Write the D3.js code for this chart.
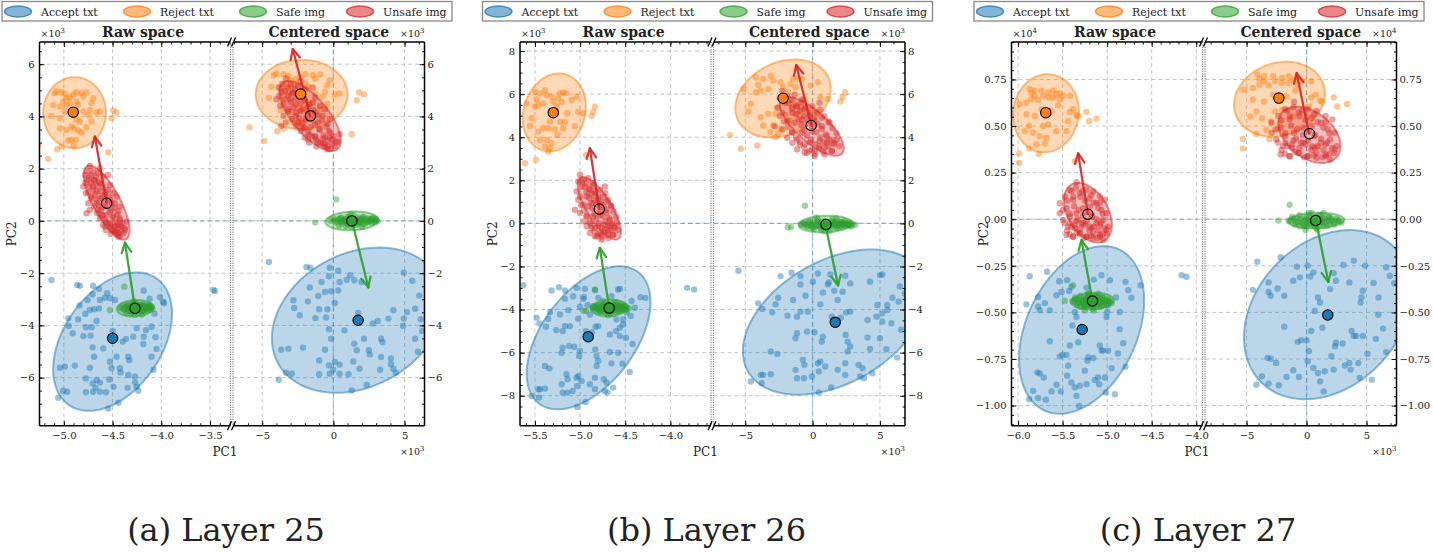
<!DOCTYPE html>
<html>
<head>
<meta charset="utf-8">
<script src="https://cdn.jsdelivr.net/npm/d3@7"></script>
<style>
body { margin: 0; background: #fff; }
svg text { font-family: "DejaVu Serif", serif; fill: #222; }
</style>
</head>
<body>
<svg id="fig" width="1433" height="557"></svg>
<script>
'use strict';

var classNames = ['Accept txt', 'Reject txt', 'Safe img', 'Unsafe img'];
var classColors = ['#1f77b4', '#ff7f0e', '#2ca02c', '#d62728'];

// ---------------- Layer 25 (raw space: x in 1e4, y in 1e3) ----------------
var l25Accept = [[-5.127,-2.26],[-4.863,-2.45],[-4.836,-2.48],[-4.70,-2.48],[-4.64,-2.60],[-4.705,-2.81],[-4.555,-2.77],[-4.527,-2.96],[-4.63,-3.03],[-4.58,-2.94],[-4.476,-3.03],[-4.18,-2.67],[-4.12,-2.98],[-4.014,-2.92],[-3.98,-3.09],[-3.973,-3.15],[-4.757,-3.03],[-4.84,-3.24],[-4.733,-3.41],[-4.69,-3.38],[-4.64,-3.35],[-4.78,-3.56],[-4.955,-3.73],[-4.853,-3.77],[-4.664,-3.83],[-4.774,-4.07],[-4.716,-4.07],[-4.91,-4.30],[-4.80,-4.41],[-4.726,-4.39],[-4.949,-4.02],[-4.50,-4.21],[-4.363,-4.52],[-4.288,-4.43],[-4.18,-4.43],[-4.157,-4.18],[-4.10,-4.05],[-4.253,-4.11],[-4.397,-4.62],[-4.185,-4.71],[-4.705,-4.84],[-4.596,-4.88],[-4.69,-5.20],[-4.459,-5.20],[-4.339,-5.20],[-4.329,-5.33],[-4.10,-5.20],[-5.04,-5.62],[-4.99,-5.58],[-4.887,-5.54],[-4.733,-5.62],[-4.527,-5.39],[-4.51,-5.64],[-4.425,-5.64],[-4.418,-5.80],[-4.774,-6.03],[-4.664,-6.09],[-4.534,-6.07],[-4.705,-6.22],[-4.63,-6.19],[-4.675,-6.39],[-4.49,-6.35],[-4.63,-6.54],[-4.70,-6.54],[-4.568,-6.56],[-4.774,-6.56],[-4.346,-6.39],[-4.253,-6.35],[-4.236,-6.50],[-4.27,-6.18],[-5.007,-6.50],[-4.966,-6.54],[-5.058,-6.77],[-4.44,-6.96],[-4.545,-7.18],[-4.27,-5.96],[-4.339,-5.90],[-3.466,-2.64],[-3.449,-2.68],[-4.07,-3.55],[-4.06,-4.45],[-4.08,-5.70],[-4.05,-4.90]];
var l25Reject = [[-5.161,2.375],[-5.068,2.746],[-5.024,2.848],[-4.955,3.078],[-4.921,3.103],[-4.897,2.874],[-4.877,3.103],[-4.818,3.384],[-4.767,3.589],[-4.716,3.806],[-4.664,4.151],[-4.630,4.189],[-4.510,3.934],[-4.493,4.227],[-4.459,4.151],[-4.545,2.631],[-5.041,3.550],[-4.973,3.487],[-4.921,3.614],[-4.897,3.550],[-4.870,3.870],[-4.836,3.806],[-4.750,4.061],[-4.716,4.508],[-4.699,4.700],[-4.818,4.891],[-4.767,4.917],[-4.870,4.930],[-4.904,4.828],[-4.938,4.738],[-4.973,4.700],[-5.007,4.572],[-5.041,4.381],[-5.092,4.891],[-5.075,4.955],[-5.024,4.930],[-4.990,4.866],[-5.110,4.444],[-4.973,4.444],[-4.938,4.508],[-4.870,4.572],[-4.853,4.444],[-4.801,4.764],[-5.127,4.023],[-4.801,4.189],[-4.733,4.253],[-4.887,4.189],[-4.990,4.189],[-5.041,3.934],[-4.853,3.461],[-5.263,2.90]];
var l25Safe = [[-4.42,-3.33],[-4.40,-3.25],[-4.38,-3.40],[-4.37,-3.30],[-4.35,-3.22],[-4.34,-3.45],[-4.33,-3.36],[-4.32,-3.28],[-4.31,-3.55],[-4.30,-3.18],[-4.30,-3.48],[-4.29,-3.35],[-4.28,-3.25],[-4.27,-3.42],[-4.26,-3.14],[-4.25,-3.32],[-4.24,-3.50],[-4.23,-3.22],[-4.22,-3.38],[-4.21,-3.28],[-4.20,-3.45],[-4.19,-3.18],[-4.18,-3.33],[-4.17,-3.40],[-4.16,-3.25],[-4.15,-3.35],[-4.14,-3.30],[-4.13,-3.42],[-4.12,-3.22],[-4.11,-3.32],[-4.10,-3.28],[-4.09,-3.36],[-4.27,-3.58],[-4.28,-3.08],[-4.36,-3.52],[-4.20,-3.58],[-4.527,-3.41],[-4.38,-2.52],
    [-4.39,-3.36],[-4.36,-3.28],[-4.33,-3.32],[-4.31,-3.40],[-4.29,-3.30],[-4.27,-3.34],[-4.26,-3.26],[-4.24,-3.38],[-4.22,-3.30],[-4.20,-3.36],[-4.18,-3.26],[-4.16,-3.38],[-4.14,-3.34],[-4.12,-3.30],[-4.34,-3.24],[-4.30,-3.42],[-4.26,-3.46],[-4.22,-3.44],[-4.18,-3.46],[-4.15,-3.28],[-4.28,-3.38],[-4.24,-3.28],[-4.20,-3.24],[-4.32,-3.34],[-4.35,-3.38],[-4.11,-3.38],[-4.13,-3.26],[-4.25,-3.40],[-4.29,-3.20],[-4.23,-3.34]];
var l25Unsafe = [[-4.733,2.107],[-4.784,1.762],[-4.760,1.571],[-4.801,1.315],[-4.774,1.060],[-4.750,0.677],[-4.699,1.890],[-4.647,1.826],[-4.596,1.699],[-4.630,1.443],[-4.699,1.315],[-4.664,1.124],[-4.716,0.932],[-4.630,0.868],[-4.579,0.996],[-4.545,1.188],[-4.527,0.805],[-4.476,0.677],[-4.510,0.421],[-4.596,0.549],[-4.647,0.421],[-4.664,0.677],[-4.562,0.230],[-4.493,0.166],[-4.442,0.358],[-4.425,0.038],[-4.459,-0.153],[-4.408,-0.217],[-4.373,-0.345],[-4.527,-0.153],[-4.476,-0.409],[-4.425,-0.600],[-4.568,-0.026],[-4.613,0.230],[-4.493,1.060],[-4.527,1.379],[-4.682,1.571],[-4.740,1.315],[-4.630,2.018],[-4.545,1.762],[-4.459,0.932],[-4.425,0.549],[-4.733,0.421],[-4.767,0.294],[-4.356,-0.026],[-4.579,-0.217],[-4.510,-0.345],[-4.442,-0.473],[-4.527,-0.089],[-4.476,-0.217],[-4.425,-0.153],[-4.373,-0.281],[-4.459,-0.409],[-4.442,-0.600],[-4.390,-0.473],
    [-4.76,1.90],[-4.74,1.65],[-4.72,1.45],[-4.70,1.20],[-4.68,1.00],[-4.66,0.80],[-4.64,0.60],[-4.62,0.40],[-4.60,0.20],[-4.58,0.05],[-4.55,-0.10],[-4.52,-0.25],[-4.49,-0.35],[-4.46,-0.50],[-4.72,1.75],[-4.69,1.55],[-4.66,1.35],[-4.63,1.15],[-4.61,0.95],[-4.58,0.75],[-4.56,0.55],[-4.53,0.35],[-4.50,0.15],[-4.47,-0.05],[-4.44,-0.25],[-4.41,-0.40],[-4.67,1.70],[-4.64,1.50],[-4.60,1.30],[-4.57,1.10],[-4.54,0.90],[-4.51,0.70],[-4.48,0.50],[-4.45,0.25],[-4.43,0.10],[-4.40,-0.10],[-4.78,1.45],[-4.75,1.10],[-4.72,0.85],[-4.69,0.55],[-4.66,0.30],[-4.63,0.10],[-4.60,-0.15],[-4.57,-0.35],[-4.52,-0.50]];
var l25Centroids = [[-4.50,-4.494],[-4.904,4.165],[-4.27,-3.345],[-4.561,0.678]];
var l25Shift = [[-46.74,-0.69],[-44.0,-3.345]];   // text, image: centered = [10*x - sx, y - sy]
var l25RawEllipses = [[-4.50,-4.62,0.61,2.65,0.4],[-4.89,4.144,0.322,1.36,0],[-4.27,-3.345,0.187,0.32,0.1],[-4.561,0.70,0.235,1.42,-0.75]];
var l25CtrEllipses = [[1.70,-3.80,6.02,2.78,0.25],[-2.23,4.84,3.23,1.33,0],[1.31,0,1.87,0.36,0.1],[-1.63,4.02,2.16,1.34,-0.7]];
var l25RawArrows = [[-4.27,-3.345,-4.373,-0.83],[-4.561,0.678,-4.682,3.23]];
var l25CtrArrows = [[1.31,0,2.45,-2.54],[-1.63,4.02,-2.85,6.58]];
var l25RawXTicks = [-5, -4.5, -4, -3.5];
var l25CtrXTicks = [-5, 0, 5];
var l25YTicks = [-6, -4, -2, 0, 2, 4, 6];

// ---------------- Layer 26 ----------------
var l26Accept = [[-5.629,-2.869],[-5.537,-8.008],[-5.463,-7.699],[-5.482,-4.381],[-5.353,-4.427],[-5.334,-4.119],[-5.316,-3.116],[-5.235,-2.961],[-5.168,-3.116],[-5.168,-3.501],[-5.076,-3.378],[-5.039,-2.992],[-4.965,-3.501],[-4.947,-3.039],[-4.958,-3.409],[-5.002,-3.872],[-4.917,-3.795],[-4.855,-3.841],[-4.836,-3.100],[-4.799,-3.455],[-4.652,-3.378],[-4.578,-3.069],[-4.560,-3.039],[-4.486,-4.119],[-4.394,-3.918],[-4.331,-3.424],[-4.276,-3.455],[-5.452,-4.643],[-5.378,-4.798],[-5.223,-4.227],[-5.131,-4.026],[-5.021,-4.427],[-4.892,-4.227],[-5.168,-4.767],[-5.264,-4.952],[-5.194,-4.998],[-5.113,-4.767],[-4.936,-4.998],[-4.869,-5.045],[-4.829,-4.798],[-4.799,-4.767],[-4.670,-5.153],[-4.604,-4.998],[-4.560,-4.844],[-4.523,-4.690],[-4.523,-4.458],[-4.597,-4.458],[-4.493,-5.307],[-4.560,-5.230],[-5.194,-5.770],[-5.205,-6.001],[-5.120,-5.693],[-5.065,-5.724],[-5.002,-5.924],[-5.010,-6.156],[-4.833,-5.847],[-4.818,-6.156],[-4.799,-6.387],[-4.818,-6.619],[-4.670,-5.971],[-4.578,-6.001],[-4.652,-6.495],[-4.530,-6.511],[-5.389,-6.619],[-5.341,-6.727],[-5.150,-7.004],[-5.139,-7.236],[-5.039,-7.159],[-5.021,-7.082],[-4.836,-7.159],[-4.892,-7.467],[-4.836,-7.699],[-4.737,-7.236],[-4.707,-7.390],[-4.726,-7.776],[-4.696,-7.853],[-4.634,-7.622],[-4.984,-7.313],[-5.032,-7.545],[-5.083,-7.776],[-5.205,-7.467],[-5.194,-7.853],[-5.142,-7.853],[-5.389,-7.668],[-5.445,-7.699],[-4.940,-8.285],[-5.032,-8.517],[-5.456,-8.085],[-3.815,-2.992],[-3.737,-3.069],[-4.44,-4.30],[-4.42,-5.60],[-4.45,-6.90],[-4.43,-3.60]];
var l26Reject = [[-5.611,2.795],[-5.489,2.949],[-5.353,3.335],[-5.334,3.489],[-5.389,3.567],[-5.316,3.721],[-5.371,3.875],[-5.445,3.875],[-5.463,4.261],[-5.408,4.415],[-5.555,4.523],[-5.537,4.878],[-5.592,5.573],[-5.5,5.418],[-5.463,5.495],[-5.408,5.573],[-5.482,5.758],[-5.5,6.113],[-5.445,6.036],[-5.389,6.190],[-5.371,5.958],[-5.316,5.881],[-5.297,5.650],[-5.242,5.804],[-5.260,5.418],[-5.205,5.650],[-5.187,6.066],[-5.223,6.036],[-5.157,6.036],[-5.094,5.727],[-5.039,5.881],[-5.223,4.724],[-5.168,4.724],[-5.187,4.415],[-5.279,4.369],[-5.353,4.415],[-5.334,4.724],[-5.058,4.523],[-5.021,5.187],[-4.965,5.110],[-4.873,4.986],[-4.855,5.187],[-4.836,5.418],[-4.936,3.181],[-5.142,5.110],[-5.249,4.106],[-5.691,3.44]];
var l26Safe = [[-4.86,-3.95],[-4.84,-3.85],[-4.82,-4.05],[-4.80,-3.78],[-4.79,-3.98],[-4.77,-4.12],[-4.76,-3.88],[-4.74,-3.70],[-4.73,-4.00],[-4.72,-3.82],[-4.71,-4.18],[-4.70,-3.92],[-4.69,-3.75],[-4.68,-4.05],[-4.67,-3.86],[-4.66,-3.98],[-4.65,-4.22],[-4.64,-3.80],[-4.63,-3.68],[-4.62,-4.02],[-4.61,-3.90],[-4.60,-4.10],[-4.59,-3.78],[-4.58,-3.95],[-4.57,-3.85],[-4.56,-4.05],[-4.55,-3.92],[-4.54,-3.75],[-4.53,-4.00],[-4.52,-3.88],[-4.51,-3.96],[-4.50,-3.83],[-4.49,-4.02],[-4.48,-3.90],[-4.46,-3.94],[-4.75,-3.60],[-4.69,-4.25],[-4.83,-3.92],[-4.60,-3.65],[-4.961,-4.06],[-4.936,-4.06],[-4.834,-3.06],
    [-4.85,-3.90],[-4.81,-3.98],[-4.78,-3.88],[-4.75,-3.96],[-4.72,-3.90],[-4.70,-4.02],[-4.68,-3.92],[-4.66,-3.84],[-4.64,-3.96],[-4.62,-3.88],[-4.60,-3.98],[-4.58,-3.90],[-4.56,-3.82],[-4.54,-3.96],[-4.52,-3.92],[-4.50,-3.98],[-4.78,-4.08],[-4.74,-3.80],[-4.70,-3.84],[-4.66,-4.08],[-4.62,-3.80],[-4.58,-4.06],[-4.54,-3.86],[-4.80,-3.84],[-4.68,-3.98],[-4.76,-4.02],[-4.64,-3.90],[-4.60,-3.86],[-4.72,-4.06],[-4.56,-3.94]];
var l26Unsafe = [[-5.002,2.255],[-5.021,1.946],[-4.984,1.715],[-5.039,1.483],[-5.002,1.252],[-5.058,0.634],[-4.965,2.023],[-4.910,2.100],[-4.855,1.869],[-4.892,1.560],[-4.928,1.252],[-4.836,1.406],[-4.781,1.560],[-4.726,1.715],[-4.744,1.252],[-4.799,1.097],[-4.855,0.943],[-4.910,0.789],[-4.965,0.866],[-5.002,0.480],[-4.928,0.326],[-4.855,0.326],[-4.781,0.403],[-4.707,0.634],[-4.652,0.789],[-4.670,0.171],[-4.726,-0.060],[-4.799,-0.137],[-4.873,-0.215],[-4.928,-0.137],[-4.836,-0.600],[-4.763,-0.523],[-4.689,-0.369],[-4.615,-0.137],[-4.634,-0.523],[-4.578,-0.292],[-4.892,-0.446],[-4.965,0.094],[-4.707,1.020],[-4.763,0.866],[-4.892,0.017],[-4.836,-0.214],[-4.781,-0.446],[-4.726,-0.292],[-4.670,-0.137],[-4.634,-0.523],[-4.689,-0.677],[-4.763,-0.755],[-4.818,-0.600],[-4.597,0.017],
    [-4.98,1.95],[-4.95,1.70],[-4.93,1.45],[-4.90,1.20],[-4.88,0.95],[-4.86,0.70],[-4.84,0.45],[-4.82,0.20],[-4.79,0.00],[-4.76,-0.20],[-4.73,-0.40],[-4.70,-0.55],[-4.93,1.85],[-4.90,1.60],[-4.87,1.35],[-4.84,1.10],[-4.81,0.85],[-4.78,0.60],[-4.75,0.35],[-4.72,0.10],[-4.69,-0.10],[-4.66,-0.30],[-4.86,1.75],[-4.83,1.50],[-4.80,1.25],[-4.77,1.00],[-4.74,0.75],[-4.71,0.50],[-4.68,0.25],[-4.65,0.00],[-4.62,-0.20],[-5.02,1.10],[-4.99,0.85],[-4.96,0.60],[-4.93,0.35],[-4.90,0.10],[-4.87,-0.10],[-4.84,-0.35],[-4.80,-0.50],[-4.76,-0.65],[-4.72,1.40],[-4.69,1.10],[-4.66,0.85],[-4.63,0.55],[-4.60,0.30]];
var l26Centroids = [[-4.910,-5.26],[-5.297,5.14],[-4.678,-3.93],[-4.788,0.665]];
var l26Shift = [[-50.78,-0.67],[-47.77,-3.88]];
var l26RawEllipses = [[-4.906,-5.31,0.686,3.32,0.5],[-5.286,5.15,0.35,1.81,0.15],[-4.678,-3.93,0.2,0.39,0.1],[-4.788,0.70,0.24,1.45,-0.75]];
var l26CtrEllipses = [[1.64,-4.58,6.82,3.37,0.4],[-2.20,5.80,3.54,1.81,0.25],[0.94,-0.03,1.99,0.39,0.1],[-0.07,4.51,2.38,1.37,-0.75]];
var l26RawArrows = [[-4.678,-3.93,-4.781,-1.14],[-4.788,0.665,-4.892,3.486]];
var l26CtrArrows = [[0.94,-0.03,1.89,-2.88],[-0.07,4.52,-1.22,7.35]];
var l26RawXTicks = [-5.5, -5, -4.5, -4];
var l26CtrXTicks = [-5, 0, 5];
var l26YTicks = [-8, -6, -4, -2, 0, 2, 4, 6, 8];

// ---------------- Layer 27 (y in 1e4) ----------------
var l27Accept = [[-5.869,-0.306],[-5.906,-0.457],[-5.775,-0.417],[-5.757,-0.489],[-5.700,-0.450],[-5.674,-0.282],[-5.644,-0.489],[-5.569,-0.408],[-5.539,-0.333],[-5.513,-0.390],[-5.449,-0.327],[-5.427,-0.385],[-5.401,-0.363],[-5.363,-0.498],[-5.345,-0.525],[-5.390,-0.570],[-5.262,-0.453],[-5.232,-0.367],[-5.213,-0.408],[-5.150,-0.324],[-5.101,-0.417],[-5.064,-0.300],[-5.007,-0.525],[-5.000,-0.498],[-4.989,-0.462],[-4.970,-0.327],[-4.858,-0.498],[-4.794,-0.336],[-4.764,-0.381],[-4.727,-0.421],[-4.625,-0.354],[-5.775,-0.468],[-5.783,-0.822],[-5.757,-0.827],[-5.644,-0.655],[-5.712,-0.849],[-5.831,-0.921],[-5.876,-0.966],[-5.775,-0.960],[-5.689,-0.969],[-5.625,-0.924],[-5.569,-0.888],[-5.521,-0.924],[-5.502,-0.727],[-5.532,-0.736],[-5.419,-0.678],[-5.438,-0.786],[-5.449,-0.840],[-5.401,-0.876],[-5.363,-0.903],[-5.307,-0.894],[-5.345,-0.948],[-5.315,-1.002],[-5.251,-0.813],[-5.232,-0.885],[-5.221,-0.759],[-5.157,-0.745],[-5.139,-0.863],[-5.101,-0.849],[-5.090,-0.885],[-5.082,-0.678],[-5.064,-0.705],[-5.026,-0.849],[-5.015,-0.930],[-5.045,-0.705],[-4.989,-0.705],[-4.820,-0.665],[-4.794,-0.791],[-4.914,-0.939],[-5.326,-0.660],[-5.213,-0.741],[-5.457,-0.728],[-4.165,-0.300],[-4.109,-0.309],[-4.86,-0.59],[-4.90,-0.42],[-4.95,-0.80],[-4.88,-0.72]];
var l27Reject = [[-5.989,0.353],[-5.989,0.302],[-5.876,0.379],[-5.768,0.351],[-5.794,0.401],[-5.700,0.406],[-5.682,0.437],[-5.757,0.446],[-5.831,0.464],[-5.925,0.473],[-5.876,0.500],[-5.719,0.500],[-5.663,0.509],[-5.569,0.473],[-5.457,0.473],[-5.438,0.527],[-5.419,0.576],[-5.345,0.558],[-5.232,0.576],[-5.202,0.527],[-5.120,0.540],[-5.326,0.554],[-5.981,0.617],[-5.906,0.563],[-5.813,0.554],[-5.738,0.590],[-5.625,0.581],[-5.551,0.612],[-5.532,0.644],[-5.494,0.662],[-5.569,0.671],[-5.607,0.653],[-5.663,0.653],[-5.719,0.662],[-5.775,0.640],[-5.813,0.662],[-5.850,0.644],[-5.906,0.626],[-5.869,0.698],[-5.813,0.689],[-5.738,0.689],[-5.663,0.680],[-5.607,0.689],[-5.532,0.676],[-5.850,0.676],[-5.419,0.662],[-5.382,0.590],[-5.363,0.311]];
var l27Safe = [[-5.39,-0.44],[-5.36,-0.42],[-5.34,-0.46],[-5.32,-0.43],[-5.30,-0.41],[-5.28,-0.45],[-5.26,-0.47],[-5.24,-0.43],[-5.22,-0.40],[-5.21,-0.44],[-5.19,-0.46],[-5.17,-0.42],[-5.16,-0.48],[-5.14,-0.44],[-5.12,-0.41],[-5.11,-0.45],[-5.09,-0.43],[-5.07,-0.47],[-5.05,-0.42],[-5.03,-0.44],[-5.01,-0.46],[-4.99,-0.43],[-4.97,-0.44],[-4.95,-0.45],[-5.25,-0.49],[-5.20,-0.40],[-5.15,-0.49],[-5.10,-0.40],[-5.30,-0.47],[-5.05,-0.46],[-5.18,-0.44],[-5.13,-0.43],[-5.23,-0.45],[-5.476,-0.439],[-5.382,-0.354],
    [-5.37,-0.44],[-5.33,-0.45],[-5.29,-0.43],[-5.27,-0.44],[-5.25,-0.42],[-5.23,-0.44],[-5.21,-0.46],[-5.19,-0.43],[-5.17,-0.45],[-5.15,-0.43],[-5.13,-0.46],[-5.11,-0.43],[-5.09,-0.45],[-5.07,-0.44],[-5.05,-0.44],[-5.03,-0.43],[-5.01,-0.45],[-4.98,-0.44],[-5.31,-0.45],[-5.26,-0.46],[-5.22,-0.42],[-5.18,-0.47],[-5.14,-0.41],[-5.10,-0.47],[-5.06,-0.42],[-5.20,-0.44],[-5.16,-0.44],[-5.12,-0.45],[-5.24,-0.47],[-5.35,-0.43]];
var l27Unsafe = [[-5.345,0.198],[-5.419,0.158],[-5.476,0.122],[-5.532,0.086],[-5.457,0.059],[-5.382,0.104],[-5.307,0.140],[-5.232,0.158],[-5.157,0.149],[-5.082,0.122],[-5.026,0.104],[-5.120,0.086],[-5.195,0.068],[-5.270,0.059],[-5.345,0.032],[-5.419,0.014],[-5.494,-0.004],[-5.532,0.032],[-5.438,-0.040],[-5.363,-0.031],[-5.288,-0.022],[-5.195,-0.040],[-5.120,-0.022],[-5.045,-0.004],[-5.007,0.032],[-5.064,0.050],[-5.007,-0.076],[-5.082,-0.094],[-5.157,-0.076],[-5.232,-0.094],[-5.307,-0.076],[-5.382,-0.094],[-5.457,-0.085],[-5.176,0.014],[-4.989,-0.040],[-5.419,-0.022],[-5.363,-0.049],[-5.307,-0.076],[-5.232,-0.094],[-5.157,-0.103],[-5.082,-0.085],[-5.007,-0.058],[-5.082,-0.031],[-5.176,-0.049],[-5.270,-0.022],[-5.382,-0.094],[-5.045,-0.112],
    [-5.50,0.05],[-5.45,0.10],[-5.40,0.15],[-5.35,0.17],[-5.30,0.12],[-5.25,0.10],[-5.20,0.11],[-5.15,0.09],[-5.10,0.06],[-5.05,0.03],[-5.48,-0.02],[-5.42,0.03],[-5.37,0.07],[-5.32,0.05],[-5.27,0.02],[-5.22,0.04],[-5.17,0.02],[-5.12,0.00],[-5.07,-0.02],[-5.03,-0.05],[-5.45,-0.06],[-5.40,-0.04],[-5.35,-0.01],[-5.30,-0.05],[-5.25,-0.03],[-5.20,-0.06],[-5.15,-0.04],[-5.10,-0.06],[-5.05,-0.08],[-5.42,-0.08],[-5.34,-0.07],[-5.26,-0.10],[-5.18,-0.09],[-5.11,-0.10],[-5.38,0.12],[-5.28,0.15],[-5.18,0.13],[-5.08,0.09],[-5.23,-0.01],[-5.33,0.00]];
var l27Centroids = [[-5.281,-0.592],[-5.689,0.572],[-5.165,-0.439],[-5.217,0.027]];
var l27Shift = [[-54.58,-0.078],[-52.41,-0.432]];
var l27RawEllipses = [[-5.287,-0.594,0.702,0.45,0.35],[-5.687,0.569,0.369,0.2095,0.05],[-5.165,-0.439,0.24,0.045,0.1],[-5.217,0.035,0.27,0.16,-0.4]];
var l27CtrEllipses = [[1.75,-0.512,6.97,0.454,0.27],[-2.26,0.644,3.79,0.201,0.15],[0.78,-0.007,2.36,0.042,0.1],[0.24,0.453,2.6,0.151,-0.4]];
var l27RawArrows = [[-5.165,-0.439,-5.288,-0.112],[-5.217,0.027,-5.326,0.353]];
var l27CtrArrows = [[0.78,-0.007,1.81,-0.336],[0.22,0.459,-0.83,0.784]];
var l27RawXTicks = [-6, -5.5, -5, -4.5, -4];
var l27CtrXTicks = [-5, 0, 5];
var l27YTicks = [-1, -0.75, -0.5, -0.25, 0, 0.25, 0.5, 0.75];

var panels = [
    { caption: '(a) Layer 25', points: [l25Accept, l25Reject, l25Safe, l25Unsafe], centroids: l25Centroids, shift: l25Shift,
      rawEll: l25RawEllipses, ctrEll: l25CtrEllipses, rawArr: l25RawArrows, ctrArr: l25CtrArrows,
      rawX: [-5.25, -3.29], ctrX: [-7.05, 6.4], y: [-7.84, 6.85],
      rawXTicks: l25RawXTicks, ctrXTicks: l25CtrXTicks, yTicks: l25YTicks,
      rawMinor: 0.1, yMinor: 0.5, yFmt: 'd', rawFmt: '.1f', yExp: '3' },
    { caption: '(b) Layer 26', points: [l26Accept, l26Reject, l26Safe, l26Unsafe], centroids: l26Centroids, shift: l26Shift,
      rawEll: l26RawEllipses, ctrEll: l26CtrEllipses, rawArr: l26RawArrows, ctrArr: l26CtrArrows,
      rawX: [-5.666, -3.55], ctrX: [-7.36, 6.86], y: [-9.39, 8.42],
      rawXTicks: l26RawXTicks, ctrXTicks: l26CtrXTicks, yTicks: l26YTicks,
      rawMinor: 0.1, yMinor: 0.5, yFmt: 'd', rawFmt: '.1f', yExp: '3' },
    { caption: '(c) Layer 27', points: [l27Accept, l27Reject, l27Safe, l27Unsafe], centroids: l27Centroids, shift: l27Shift,
      rawEll: l27RawEllipses, ctrEll: l27CtrEllipses, rawArr: l27RawArrows, ctrArr: l27CtrArrows,
      rawX: [-6.074, -3.93], ctrX: [-8.47, 7.5], y: [-1.108, 0.951],
      rawXTicks: l27RawXTicks, ctrXTicks: l27CtrXTicks, yTicks: l27YTicks,
      rawMinor: 0.1, yMinor: 0.05, yFmt: '.2f', rawFmt: '.1f', yExp: '4' }
];

var svg = d3.select('#fig');
var panelOffsets = [0, 480.5, 972];
var plotTop = 42, plotBottom = 425.7;
var rawRange = [39.5, 230.5], ctrRange = [233, 424.5];

var minorValues = function(domain, step){
    var out = [];
    var start = Math.ceil(domain[0] / step - 1e-6);
    for (var k = start; k * step <= domain[1] + 1e-9; k++) { out.push(+(k * step).toFixed(4)); }
    return out;
};

var toCentered = function(pt, cls, shift){
    var s = shift[cls < 2 ? 0 : 1];
    return [pt[0] * 10 - s[0], pt[1] - s[1]];
};

var ellipsePath = function(e, x, y){
    var pts = d3.range(0, 121).map(function(i){
        var t = i / 120 * 2 * Math.PI;
        var ex = e[0] + e[2] * Math.cos(t);
        var ey = e[1] + e[3] * (e[4] * Math.cos(t) + Math.sqrt(1 - e[4] * e[4]) * Math.sin(t));
        return [x(ex), y(ey)];
    });
    return d3.line()(pts) + 'Z';
};

var styleAxis = function(sel){
    sel.select('.domain').remove();
    sel.selectAll('line').attr('stroke', '#000').attr('stroke-width', 0.9);
    sel.selectAll('text').attr('font-family', '"DejaVu Serif", serif').attr('font-size', 10).attr('fill', '#222');
    sel.attr('font-family', null).attr('font-size', null);
};

var drawArrow = function(g, a, x, y, color){
    var x0 = x(a[0]), y0 = y(a[1]), x1 = x(a[2]), y1 = y(a[3]);
    var ang = Math.atan2(y1 - y0, x1 - x0);
    var len = 11, spread = 0.45;
    g.append('line').attr('x1', x0).attr('y1', y0).attr('x2', x1).attr('y2', y1)
        .attr('stroke', color).attr('stroke-width', 2.3).attr('stroke-opacity', 0.9).attr('stroke-linecap', 'round');
    g.append('path')
        .attr('d', 'M' + (x1 - len * Math.cos(ang - spread)) + ',' + (y1 - len * Math.sin(ang - spread)) +
            'L' + x1 + ',' + y1 +
            'L' + (x1 - len * Math.cos(ang + spread)) + ',' + (y1 - len * Math.sin(ang + spread)))
        .attr('fill', 'none').attr('stroke', color).attr('stroke-width', 2.3).attr('stroke-opacity', 0.9)
        .attr('stroke-linecap', 'round').attr('stroke-linejoin', 'round');
};

var drawSubplot = function(g, id, p, x, y, xTicks, xMinorStep, xFmt, centered){
    var r = x.range();

    g.append('clipPath').attr('id', id).append('rect')
        .attr('x', r[0]).attr('y', plotTop).attr('width', r[1] - r[0]).attr('height', plotBottom - plotTop);

    var body = g.append('g').attr('clip-path', 'url(#' + id + ')');

    // grid
    xTicks.forEach(function(t){
        body.append('line').attr('x1', x(t)).attr('x2', x(t)).attr('y1', plotTop).attr('y2', plotBottom)
            .attr('stroke', '#b8b8b8').attr('stroke-width', 0.8).attr('stroke-dasharray', '4,3');
    });
    p.yTicks.forEach(function(t){
        body.append('line').attr('x1', r[0]).attr('x2', r[1]).attr('y1', y(t)).attr('y2', y(t))
            .attr('stroke', '#b8b8b8').attr('stroke-width', 0.8).attr('stroke-dasharray', '4,3');
    });

    // zero lines
    body.append('line').attr('x1', r[0]).attr('x2', r[1]).attr('y1', y(0)).attr('y2', y(0))
        .attr('stroke', '#1f77b4').attr('stroke-opacity', 0.45).attr('stroke-width', 1.1).attr('stroke-dasharray', '5,3');
    if (centered) {
        body.append('line').attr('x1', x(0)).attr('x2', x(0)).attr('y1', plotTop).attr('y2', plotBottom)
            .attr('stroke', '#1f77b4').attr('stroke-opacity', 0.45).attr('stroke-width', 1.1).attr('stroke-dasharray', '5,3');
    }

    // clouds + ellipses
    p.points.forEach(function(pts, cls){
        var data = centered ? pts.map(function(pt){ return toCentered(pt, cls, p.shift); }) : pts;
        body.append('g').selectAll('circle').data(data).enter().append('circle')
            .attr('cx', function(d){ return x(d[0]); })
            .attr('cy', function(d){ return y(d[1]); })
            .attr('r', 3.2)
            .attr('fill', classColors[cls])
            .attr('fill-opacity', 0.45);
        var e = centered ? p.ctrEll[cls] : p.rawEll[cls];
        body.append('path').attr('d', ellipsePath(e, x, y))
            .attr('fill', classColors[cls]).attr('fill-opacity', 0.3)
            .attr('stroke', classColors[cls]).attr('stroke-opacity', 0.5).attr('stroke-width', 2);
    });

    // arrows: safe (green), unsafe (red)
    var arrows = centered ? p.ctrArr : p.rawArr;
    drawArrow(body, arrows[0], x, y, classColors[2]);
    drawArrow(body, arrows[1], x, y, classColors[3]);

    // centroids
    p.centroids.forEach(function(c, cls){
        var cc = centered ? toCentered([c[0], c[1]], cls, p.shift) : c;
        body.append('circle').attr('cx', x(cc[0])).attr('cy', y(cc[1])).attr('r', 5.2)
            .attr('fill', cls < 2 ? classColors[cls] : 'none')
            .attr('stroke', '#000').attr('stroke-width', 1.1);
    });

    // x axes (bottom with labels, top ticks only), inward ticks
    var xMinor = minorValues(x.domain(), xMinorStep);
    var bottomAx = g.append('g').attr('transform', 'translate(0,' + plotBottom + ')')
        .call(d3.axisBottom(x).tickValues(xTicks).tickSize(-5).tickPadding(6).tickFormat(d3.format(xFmt)));
    styleAxis(bottomAx);
    styleAxis(g.append('g').attr('transform', 'translate(0,' + plotBottom + ')')
        .call(d3.axisBottom(x).tickValues(xMinor).tickSize(-2.5).tickFormat('')));
    styleAxis(g.append('g').attr('transform', 'translate(0,' + plotTop + ')')
        .call(d3.axisTop(x).tickValues(xTicks).tickSize(-5).tickFormat('')));
    styleAxis(g.append('g').attr('transform', 'translate(0,' + plotTop + ')')
        .call(d3.axisTop(x).tickValues(xMinor).tickSize(-2.5).tickFormat('')));

    // y axis on the outer side
    var yMinor = minorValues(y.domain(), p.yMinor);
    var outer = centered ? r[1] : r[0];
    var axisFn = centered ? d3.axisRight : d3.axisLeft;
    styleAxis(g.append('g').attr('transform', 'translate(' + outer + ',0)')
        .call(axisFn(y).tickValues(p.yTicks).tickSize(-5).tickPadding(centered ? 3 : 5).tickFormat(d3.format(p.yFmt))));
    styleAxis(g.append('g').attr('transform', 'translate(' + outer + ',0)')
        .call(axisFn(y).tickValues(yMinor).tickSize(-2.5).tickFormat('')));

    // spines
    g.append('line').attr('x1', r[0]).attr('x2', r[1]).attr('y1', plotTop).attr('y2', plotTop).attr('stroke', '#000').attr('stroke-width', 1.5);
    g.append('line').attr('x1', r[0]).attr('x2', r[1]).attr('y1', plotBottom).attr('y2', plotBottom).attr('stroke', '#000').attr('stroke-width', 1.5);
    g.append('line').attr('x1', outer).attr('x2', outer).attr('y1', plotTop).attr('y2', plotBottom).attr('stroke', '#000').attr('stroke-width', 1.5);
    var inner = centered ? r[0] : r[1];
    g.append('line').attr('x1', inner).attr('x2', inner).attr('y1', plotTop).attr('y2', plotBottom)
        .attr('stroke', '#888').attr('stroke-width', 1.3).attr('stroke-dasharray', '1.2,1.2');
};

var expLabel = function(g, xPos, yPos, anchor, exp){
    var t = g.append('text').attr('x', xPos).attr('y', yPos).attr('text-anchor', anchor).attr('font-size', 9.5);
    t.append('tspan').text('\u00d710');
    t.append('tspan').attr('dy', -4).attr('font-size', 7).text(exp);
};

panels.forEach(function(p, i){
    var ox = panelOffsets[i];
    var g = svg.append('g').attr('transform', 'translate(' + ox + ',0)');

    var rawX = d3.scaleLinear().domain(p.rawX).range(rawRange);
    var ctrX = d3.scaleLinear().domain(p.ctrX).range(ctrRange);
    var y = d3.scaleLinear().domain(p.y).range([plotBottom, plotTop]);

    drawSubplot(g, 'clip-raw-' + i, p, rawX, y, p.rawXTicks, p.rawMinor, p.rawFmt, false);
    drawSubplot(g, 'clip-ctr-' + i, p, ctrX, y, p.ctrXTicks, 1, 'd', true);

    // break marks
    [plotTop, plotBottom].forEach(function(yy){
        [rawRange[1] - 1, ctrRange[0] + 0.5].forEach(function(xx){
            g.append('line').attr('x1', xx - 2).attr('y1', yy + 4.5).attr('x2', xx + 2).attr('y2', yy - 4.5)
                .attr('stroke', '#000').attr('stroke-width', 1.3);
        });
    });

    // titles
    g.append('text').attr('x', (rawRange[0] + rawRange[1]) / 2 + 8).attr('y', 37).attr('text-anchor', 'middle')
        .attr('font-size', 14).attr('font-weight', 'bold').text('Raw space');
    g.append('text').attr('x', (ctrRange[0] + ctrRange[1]) / 2).attr('y', 37).attr('text-anchor', 'middle')
        .attr('font-size', 14).attr('font-weight', 'bold').text('Centered space');

    expLabel(g, rawRange[0] + 1, 37, 'start', p.yExp);
    expLabel(g, ctrRange[1], 37, 'end', p.yExp);
    expLabel(g, ctrRange[1], 455, 'end', '3');

    var mid = (rawRange[0] + ctrRange[1]) / 2;
    g.append('text').attr('x', mid - 7).attr('y', 456).attr('text-anchor', 'middle').attr('font-size', 12).text('PC1');
    g.append('text').attr('transform', 'translate(16,' + ((plotTop + plotBottom) / 2) + ') rotate(-90)')
        .attr('text-anchor', 'middle').attr('font-size', 12).text('PC2');

    // legend
    var lg = g.append('g').attr('transform', 'translate(-1,0)');
    lg.append('rect').attr('x', 3).attr('y', 1.5).attr('width', 450).attr('height', 19.5)
        .attr('fill', '#fff').attr('stroke', '#888').attr('stroke-width', 1.3);
    var iconX = [19, 138, 254, 361];
    classNames.forEach(function(name, cls){
        lg.append('ellipse').attr('cx', iconX[cls]).attr('cy', 11.5).attr('rx', 13.5).attr('ry', 5.5)
            .attr('fill', classColors[cls]).attr('fill-opacity', 0.55)
            .attr('stroke', classColors[cls]).attr('stroke-opacity', 0.75).attr('stroke-width', 1.5);
        lg.append('text').attr('x', iconX[cls] + 23).attr('y', 15.5).attr('font-size', 11).text(name);
    });

    // caption
    g.append('text').attr('x', mid - 6).attr('y', 541).attr('text-anchor', 'middle')
        .attr('font-size', 32).text(p.caption);
});
</script>
</body>
</html>
